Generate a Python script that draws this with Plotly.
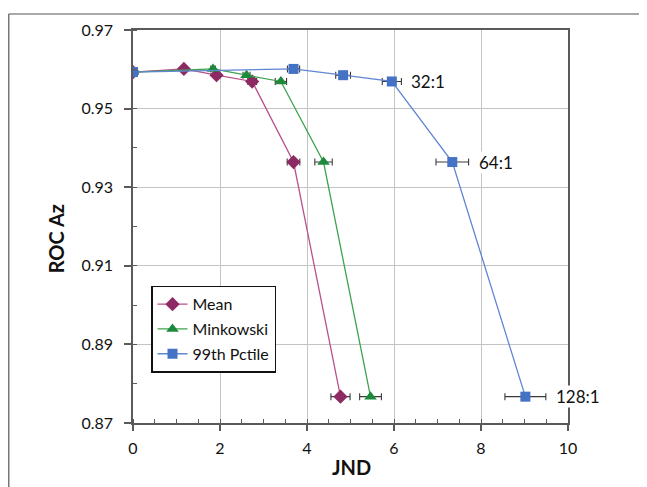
import plotly.graph_objects as go

# ---- data ----
roc_az = [0.9593, 0.9601, 0.9585, 0.9569, 0.9364, 0.8767]

mean_jnd = [0.0, 1.17, 1.92, 2.74, 3.69, 4.77]
mean_err = [0.0, 0.05, 0.07, 0.10, 0.145, 0.22]

mink_jnd = [0.0, 1.84, 2.61, 3.40, 4.38, 5.46]
mink_err = [0.0, 0.05, 0.08, 0.13, 0.20, 0.25]

pct_jnd = [0.0, 3.69, 4.83, 5.95, 7.34, 9.02]
pct_err = [0.0, 0.14, 0.17, 0.22, 0.375, 0.47]

ratio_labels = ["32:1", "64:1", "128:1"]
ratio_idx = [3, 4, 5]

x_range = [0, 10]
y_range = [0.87, 0.97]

# ---- layout constants (page has an 8px body margin) ----
OFF = 8
W, H = 647, 487
PL, PR, PT, PB = 133, 568, 25, 423          # plot area in screen pixels
L = PL - OFF
T = PT - OFF
R = W - (PR - OFF)
B = H - (PB - OFF)
FONT = "Lato"
AXIS_COL = "#5a5a5a"
GRID_COL = "#c4c4c4"
ERR_COL = "#3a3a3a"

pw = W - L - R
ph = H - T - B


def px(xs):
    return (xs - PL) / pw


def py(ys):
    return (PB - ys) / ph


fig = go.Figure()

series = [
    ("Mean", mean_jnd, mean_err, "diamond", 11, "#8e2a63", "#b9508a"),
    ("Minkowski", mink_jnd, mink_err, "triangle-up", 11, "#1c8a3a", "#3fa34d"),
    ("99th Pctile", pct_jnd, pct_err, "square", 10, "#4472c4", "#5f86d2"),
]
for name, xs, errs, sym, sz, mcol, lcol in series:
    fig.add_trace(go.Scatter(
        x=xs, y=roc_az, name=name, mode="lines+markers",
        legendgroup=name,
        line=dict(color=lcol, width=1.3),
        marker=dict(symbol=sym, size=sz, color=mcol, line=dict(width=0)),
        error_x=dict(type="data", array=errs, visible=True,
                     color=ERR_COL, thickness=1.1, width=3.5),
    ))

# ratio labels next to the 99th percentile points
for lab, idx in zip(ratio_labels, ratio_idx):
    fig.add_annotation(
        x=pct_jnd[idx], y=roc_az[idx], text=lab, showarrow=False,
        xanchor="left", yanchor="middle",
        xshift=(pct_err[idx] * 43.5) + 9,
        font=dict(family=FONT, size=17, color="#111111"),
        bgcolor="white", borderpad=0,
    )

# axis titles as annotations for exact placement
fig.add_annotation(xref="paper", yref="paper", x=px(56), y=py(237),
                   text="<b>ROC Az</b>", textangle=-90, showarrow=False,
                   xanchor="center", yanchor="middle",
                   font=dict(family=FONT, size=20, color="#111111"))
fig.add_annotation(xref="paper", yref="paper", x=px(351), y=py(468),
                   text="<b>JND</b>", showarrow=False,
                   xanchor="center", yanchor="middle",
                   font=dict(family=FONT, size=20, color="#111111"))

# outer frame (left and top edges visible)
fig.add_shape(type="line", xref="paper", yref="paper",
              x0=px(8.8), x1=px(8.8), y0=py(8.8), y1=py(500),
              line=dict(color="#555555", width=1.2))
fig.add_shape(type="line", xref="paper", yref="paper",
              x0=px(8.8), x1=px(660), y0=py(8.8), y1=py(8.8),
              line=dict(color="#555555", width=1.2))

fig.update_xaxes(
    range=x_range, dtick=2, tick0=0,
    showgrid=True, gridcolor=GRID_COL, gridwidth=1,
    showline=True, linecolor=AXIS_COL, linewidth=1.5, mirror=True,
    ticks="outside", ticklen=6, tickwidth=1.5, tickcolor=AXIS_COL,
    minor=dict(dtick=0.5, ticks="inside", ticklen=4, tickwidth=1, tickcolor=AXIS_COL, showgrid=False),
    tickfont=dict(family=FONT, size=16, color="#111111"),
    zeroline=False, ticklabelstandoff=4,
)
fig.update_yaxes(
    range=y_range, dtick=0.02, tick0=0.87, tickformat=".2f",
    showgrid=True, gridcolor=GRID_COL, gridwidth=1,
    showline=True, linecolor=AXIS_COL, linewidth=1.5, mirror=True,
    ticks="outside", ticklen=7, tickwidth=1.5, tickcolor=AXIS_COL,
    minor=dict(dtick=0.01, ticks="inside", ticklen=4, tickwidth=1, tickcolor=AXIS_COL, showgrid=False),
    tickfont=dict(family=FONT, size=16, color="#111111"),
    zeroline=False, ticklabelstandoff=8,
)

fig.update_layout(
    width=W, height=H,
    margin=dict(l=L, r=R, t=T, b=B, pad=0),
    paper_bgcolor="white", plot_bgcolor="white",
    font=dict(family=FONT, size=16, color="#111111"),
    showlegend=True,
    legend=dict(
        x=px(151), y=py(284), xanchor="left", yanchor="top",
        bgcolor="white", bordercolor="#111111", borderwidth=1.5,
        font=dict(family=FONT, size=16, color="#111111"),
        traceorder="grouped", tracegroupgap=1,
        itemwidth=30,
    ),
)

fig.write_html("out.html")
